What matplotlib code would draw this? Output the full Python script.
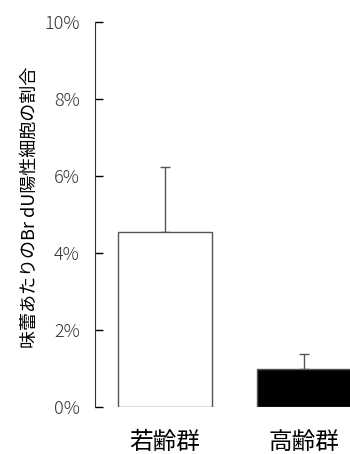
import matplotlib
matplotlib.use('Agg')
import matplotlib.pyplot as plt

plt.rcParams['font.family'] = ['Noto Sans CJK JP', 'DejaVu Sans']

# data (percent)
groups = ['若齢群', '高齢群']
means = [4.55, 1.0]
errs = [1.68, 0.38]
colors = ['white', 'black']
yticks = [0, 2, 4, 6, 8, 10]

fig = plt.figure(figsize=(3.5, 4.54), dpi=100)
ax = fig.add_axes([95/350, 47/454, 255/350, 385/454])

xs = range(len(groups))
ax.bar(xs, means, width=0.67, color=colors, edgecolor='#555555', linewidth=1.0, zorder=2)
ax.errorbar(xs, means, yerr=[[0, 0], errs], fmt='none', ecolor='#555555',
            elinewidth=1.0, capsize=3.5, capthick=1.0, zorder=1)

ax.set_xlim(-0.504, 1.331)
ax.set_ylim(0, 10)
ax.set_yticks(yticks)
ax.set_yticklabels([f'{t}%' for t in yticks], fontsize=13, color='#333333',
                   fontweight='light')
ax.tick_params(axis='y', direction='in', length=6, width=1, pad=11)
ax.set_xticks(list(xs))
ax.set_xticklabels(groups, fontsize=17)
ax.tick_params(axis='x', length=0, pad=17)

for s in ['top', 'right', 'bottom']:
    ax.spines[s].set_visible(False)
ax.spines['left'].set_color('#333333')

fig.text(30/350, 1 - 207/454, '味蕾あたりのBr dU陽性細胞の割合', rotation=90,
         ha='center', va='center', fontsize=13)

fig.savefig('out.png', dpi=100)
